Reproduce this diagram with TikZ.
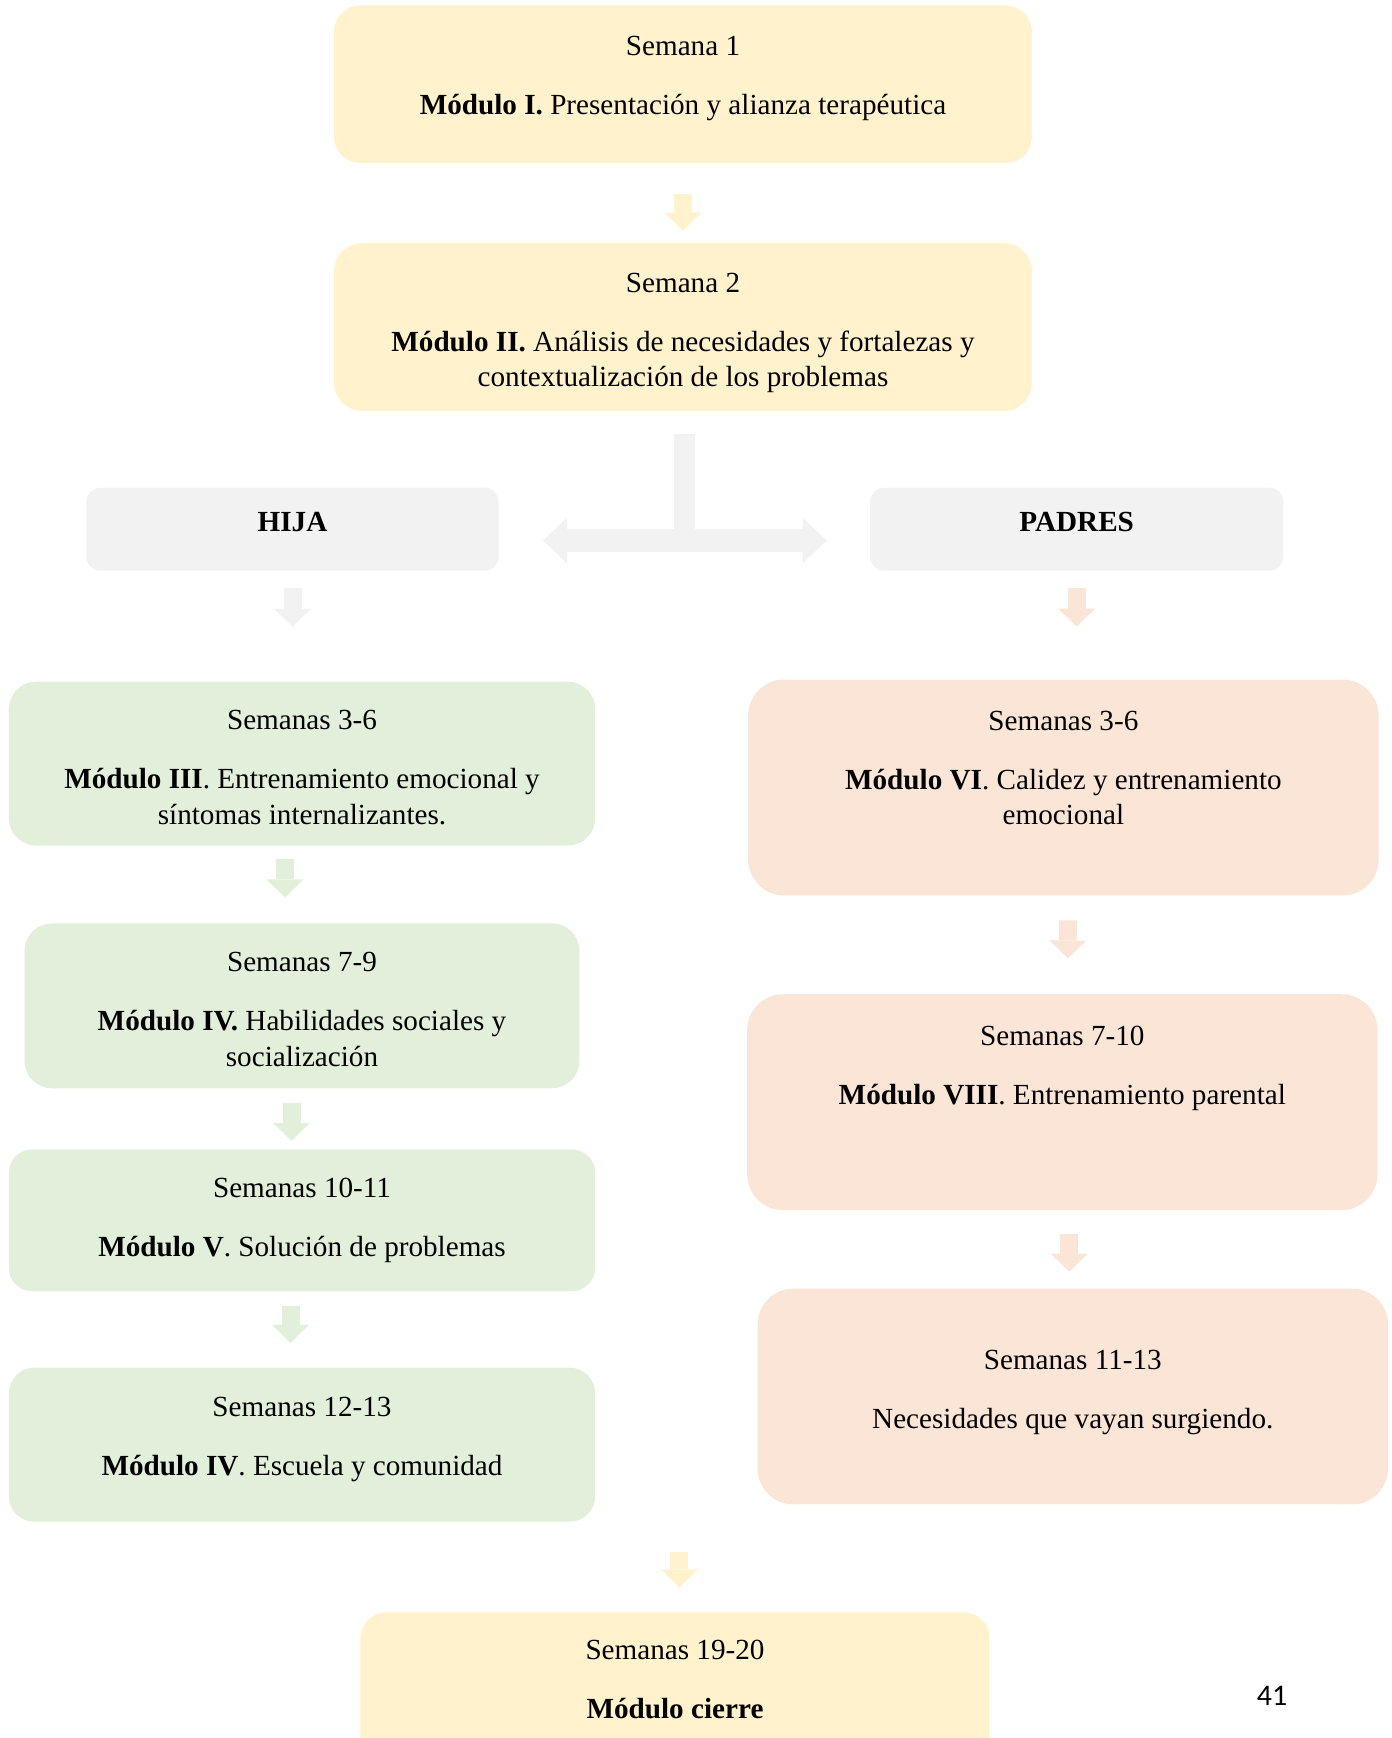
\documentclass[tikz,border=0pt]{standalone}
\usepackage{fontspec}
\setmainfont{Liberation Serif}
\newfontfamily\paginafont{Carlito}
\usepackage{tikz}
\usetikzlibrary{positioning, arrows.meta}
\definecolor{amarillo}{HTML}{FFF2CC}
\definecolor{gris}{HTML}{F2F2F2}
\definecolor{verde}{HTML}{E2EFDA}
\definecolor{salmon}{HTML}{FBE5D6}
\tikzset{
  caja/.style={rectangle, fill=#1, inner sep=0pt},
  txt/.style={anchor=north, inner sep=0pt, align=center, font=\fontsize{16.6}{20.2}\selectfont},
  flecha/.style={draw=#1, line width=0.36cm, -{Triangle[width=0.74cm, length=0.36cm, line width=0pt]}},
}

\begin{document}
\begin{tikzpicture}[x=0.02cm, y=-0.02cm]
  \tikzset{
    ancha/.style={minimum width=13.96cm},
    columna/.style={minimum width=11.73cm},
    derecha/.style={minimum width=12.61cm, minimum height=4.32cm, rounded corners=0.72cm},
  }
  \clip (0,0) rectangle (1392,1738);

  % Semanas 1 y 2
  \node[caja=amarillo, ancha, minimum height=3.15cm, rounded corners=0.52cm] (b1) at (683,84.2) {};
  \node[caja=amarillo, ancha, minimum height=3.36cm, rounded corners=0.56cm] (b2) at (683,327) {};
  \node[txt] (t1) at ([yshift=-0.61cm]b1.north) {Semana 1\\[13.4pt]\textbf{Módulo I.} Presentación y alianza terapéutica};
  \node[txt] (t2) at ([yshift=-0.60cm]b2.north) {Semana 2\\[13.4pt]\textbf{Módulo II.} Análisis de necesidades y fortalezas y\\contextualización de los problemas};
  \draw[flecha=amarillo, shorten <=0.62cm, shorten >=0.24cm] (b1.south) -- (b2.north);

  % Hija / Padres
  \node[caja=gris, minimum width=8.25cm, minimum height=1.66cm, rounded corners=0.28cm] (hija) at (292.5,529.2) {};
  \node[caja=gris, minimum width=8.27cm, minimum height=1.66cm, rounded corners=0.28cm] (padres) at (1076.7,529.2) {};
  \node[txt] (th) at ([yshift=-0.50cm]hija.north) {\textbf{HIJA}};
  \node[txt] (tp) at ([yshift=-0.49cm]padres.north) {\textbf{PADRES}};
  \coordinate (tee) at (684.5,540.5);
  \draw[gris, line width=0.42cm, shorten <=0.46cm] (b2.south -| tee) -- (tee);
  \draw[gris, line width=0.46cm, shorten <=0.88cm, shorten >=0.86cm,
    {Triangle[width=0.92cm, length=0.48cm, line width=0pt]}-{Triangle[width=0.92cm, length=0.48cm, line width=0pt]}]
    (hija.east |- tee) -- (padres.west |- tee);

  % Modulos de la hija
  \node[caja=verde, columna, minimum height=3.28cm, rounded corners=0.55cm] (b3) at (302,763.6) {};
  \node[caja=verde, minimum width=11.10cm, minimum height=3.30cm, rounded corners=0.55cm] (b4) at (302,1005.8) {};
  \node[caja=verde, columna, minimum height=2.84cm, rounded corners=0.47cm] (b5) at (302,1220.3) {};
  \node[caja=verde, columna, minimum height=3.08cm, rounded corners=0.51cm] (b6) at (302,1444.7) {};
  \node[txt] (t3) at ([yshift=-0.58cm]b3.north) {Semanas 3-6\\[13.4pt]\textbf{Módulo III}. Entrenamiento emocional y\\síntomas internalizantes.};
  \node[txt] (t4) at ([yshift=-0.58cm]b4.north) {Semanas 7-9\\[13.4pt]\textbf{Módulo IV.} Habilidades sociales y\\socialización};
  \node[txt] (t5) at ([yshift=-0.58cm]b5.north) {Semanas 10-11\\[13.4pt]\textbf{Módulo V}. Solución de problemas};
  \node[txt] (t6) at ([yshift=-0.58cm]b6.north) {Semanas 12-13\\[13.4pt]\textbf{Módulo IV}. Escuela y comunidad};
  \draw[flecha=gris, shorten <=0.34cm, shorten >=1.09cm] (hija.south) -- (hija.south |- b3.north);
  \draw[flecha=verde, shorten <=0.27cm, shorten >=0.51cm] ([xshift=-0.34cm]b3.south) -- ([xshift=-0.34cm]b4.north);
  \draw[flecha=verde, shorten <=0.29cm, shorten >=0.16cm] ([xshift=-0.21cm]b4.south) -- ([xshift=-0.21cm]b5.north);
  \draw[flecha=verde, shorten <=0.29cm, shorten >=0.49cm] ([xshift=-0.23cm]b5.south) -- ([xshift=-0.23cm]b6.north);

  % Modulos de los padres
  \node[caja=salmon, derecha] (b7) at (1063.4,787.5) {};
  \node[caja=salmon, derecha] (b8) at (1062.3,1102.2) {};
  \node[caja=salmon, derecha] (b9) at (1072.8,1396.5) {};
  \node[txt] (t7) at ([yshift=-0.63cm]b7.north) {Semanas 3-6\\[13.4pt]\textbf{Módulo VI}. Calidez y entrenamiento\\emocional};
  \node[txt] (t8) at ([yshift=-0.63cm]b8.north) {Semanas 7-10\\[13.4pt]\textbf{Módulo VIII}. Entrenamiento parental};
  \node[txt] (t9) at ([yshift=-1.23cm]b9.north) {Semanas 11-13\\[13.4pt]Necesidades que vayan surgiendo.};
  \draw[flecha=salmon, shorten <=0.34cm, shorten >=1.05cm] (padres.south) -- (padres.south |- b7.north);
  \draw[flecha=salmon, shorten <=0.49cm, shorten >=0.71cm] ([xshift=0.1cm]b7.south) -- ([xshift=0.1cm]b8.north);
  \draw[flecha=salmon, shorten <=0.47cm, shorten >=0.33cm] ([xshift=0.14cm]b8.south) -- ([xshift=0.14cm]b8.south |- b9.north);

  % Cierre
  \node[caja=amarillo, minimum width=12.59cm, minimum height=3.15cm, rounded corners=0.52cm] (b10) at (675,1691) {};
  \node[txt] (t10) at ([yshift=-0.56cm]b10.north) {Semanas 19-20\\[13.4pt]\textbf{Módulo cierre}};
  \coordinate (cierre) at (679.4,1551.6);
  \draw[flecha=amarillo, shorten >=0.49cm] (cierre) -- (cierre |- b10.north);

  % Numero de pagina
  \node[font=\paginafont\fontsize{17}{20}\selectfont, inner sep=0pt] (pag) at (1272,1696) {41};
\end{tikzpicture}
\end{document}
